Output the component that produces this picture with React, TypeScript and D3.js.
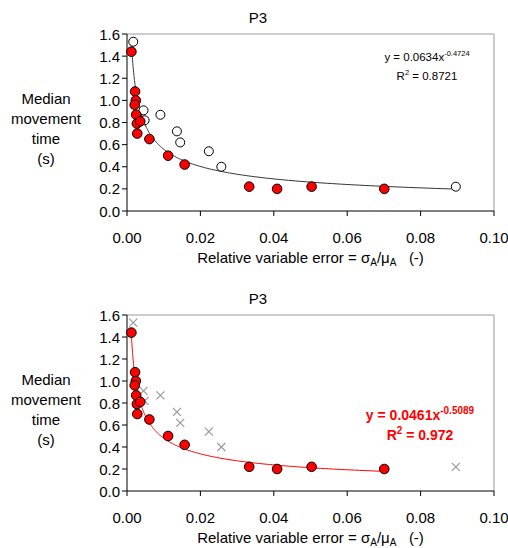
import React from "react";
import * as d3 from "d3";

const redX = [0.0012, 0.0022, 0.0024, 0.0021, 0.0025, 0.0027, 0.0036, 0.0028, 0.0061, 0.0112, 0.0157, 0.0333, 0.0409, 0.0503, 0.0701];
const redY = [1.44, 1.08, 1.0, 0.96, 0.87, 0.79, 0.81, 0.70, 0.65, 0.50, 0.42, 0.22, 0.20, 0.22, 0.20];
const whiteX = [0.0017, 0.0045, 0.0048, 0.0091, 0.0136, 0.0145, 0.0223, 0.0257, 0.0896];
const whiteY = [1.53, 0.91, 0.82, 0.87, 0.72, 0.62, 0.54, 0.40, 0.22];
const xTicks = [0, 0.02, 0.04, 0.06, 0.08, 0.1];
const yTicks = [0, 0.2, 0.4, 0.6, 0.8, 1.0, 1.2, 1.4, 1.6];
const fitAll = { a: 0.0634, b: -0.4724, r2: "0.8721" };
const fitRed = { a: 0.0461, b: -0.5089, r2: "0.972" };
const titleText = "P3";
const yLabelLines = ["Median", "movement", "time", "(s)"];

const FONT = "Liberation Sans, Arial, sans-serif";

function Chart({ top, bottom, variant }: { top: number; bottom: number; variant: "all" | "red" }) {
  const left = 127, right = 494;
  const x = d3.scaleLinear().domain([0, 0.1]).range([left, right]);
  const y = d3.scaleLinear().domain([0, 1.6]).range([bottom, top]);
  const fit = variant === "all" ? fitAll : fitRed;
  const xs = variant === "all" ? [...redX, ...whiteX] : redX;
  const x0 = d3.min(xs)!, x1 = d3.max(xs)!;
  const pts = d3.range(0, 201).map((i) => {
    const t = i / 200;
    const xv = Math.exp(Math.log(x0) + t * (Math.log(x1) - Math.log(x0)));
    return [xv, fit.a * Math.pow(xv, fit.b)] as [number, number];
  });
  const line = d3.line<[number, number]>().x((d) => x(d[0])).y((d) => y(d[1]));
  const lineColor = variant === "all" ? "#333" : "#ff0000";
  return (
    <g fontFamily={FONT}>
      <text x={258} y={top - 11} textAnchor="middle" fontSize={15}>{titleText}</text>
      <line x1={left} x2={right} y1={top} y2={top} stroke="#999" />
      <line x1={right} x2={right} y1={top} y2={bottom} stroke="#999" />
      <line x1={left} x2={left} y1={top} y2={bottom} stroke="#000" />
      <line x1={left} x2={right} y1={bottom} y2={bottom} stroke="#000" />
      {yTicks.map((t) => (
        <g key={"y" + t}>
          <line x1={left - 5} x2={left} y1={y(t)} y2={y(t)} stroke="#000" />
          <text x={left - 7} y={y(t) + 5.5} textAnchor="end" fontSize={15}>{t.toFixed(1)}</text>
        </g>
      ))}
      {xTicks.map((t) => (
        <g key={"x" + t}>
          <line x1={x(t)} x2={x(t)} y1={bottom} y2={bottom + 5} stroke="#000" />
          <text x={x(t)} y={bottom + 32} textAnchor="middle" fontSize={15}>{t.toFixed(2)}</text>
        </g>
      ))}
      <text x={(left + right) / 2} y={bottom + 52} textAnchor="middle" fontSize={15}>
        Relative variable error = σ<tspan fontSize={10} dy={3}>A</tspan><tspan dy={-3}>/μ</tspan><tspan fontSize={10} dy={3}>A</tspan><tspan dy={-3} xmlSpace="preserve">{"   (-)"}</tspan>
      </text>
      {yLabelLines.map((s, i) => (
        <text key={s} x={46} y={top + 70 + i * 20} textAnchor="middle" fontSize={15}>{s}</text>
      ))}
      <path d={line(pts) || ""} fill="none" stroke={lineColor} strokeWidth={1} />
      {variant === "all"
        ? whiteX.map((v, i) => (
            <circle key={"w" + i} cx={x(v)} cy={y(whiteY[i])} r={4.5} fill="#fff" stroke="#000" strokeWidth={1} />
          ))
        : whiteX.map((v, i) => {
            const cx = x(v), cy = y(whiteY[i]), s = 4;
            return (
              <path key={"c" + i} d={`M${cx - s},${cy - s}L${cx + s},${cy + s}M${cx - s},${cy + s}L${cx + s},${cy - s}`} stroke="#999" strokeWidth={1.2} />
            );
          })}
      {redX.map((v, i) => (
        <circle key={"r" + i} cx={x(v)} cy={y(redY[i])} r={4.8} fill="#ff0000" stroke="#000" strokeWidth={1} />
      ))}
      {variant === "all" ? (
        <g fontSize={11.5} textAnchor="middle">
          <text x={427} y={61}>
            y = {fit.a}x<tspan fontSize={7.5} dy={-5}>{fit.b}</tspan>
          </text>
          <text x={427} y={80}>
            R<tspan fontSize={7.5} dy={-5}>2</tspan><tspan dy={5}> = {fit.r2}</tspan>
          </text>
        </g>
      ) : (
        <g fontSize={14} fontWeight="bold" fill="#ff0000" textAnchor="middle">
          <text x={420} y={top + 105}>
            y = {fit.a}x<tspan fontSize={10} dy={-6}>{fit.b}</tspan>
          </text>
          <text x={420} y={top + 125}>
            R<tspan fontSize={10} dy={-6}>2</tspan><tspan dy={6}> = {fit.r2}</tspan>
          </text>
        </g>
      )}
    </g>
  );
}

export default function App() {
  return (
    <svg width={508} height={548} style={{ position: "absolute", left: 0, top: 0, background: "#fff" }}>
      <rect width={508} height={548} fill="#fff" />
      <Chart top={34} bottom={211} variant="all" />
      <Chart top={315} bottom={491} variant="red" />
    </svg>
  );
}
